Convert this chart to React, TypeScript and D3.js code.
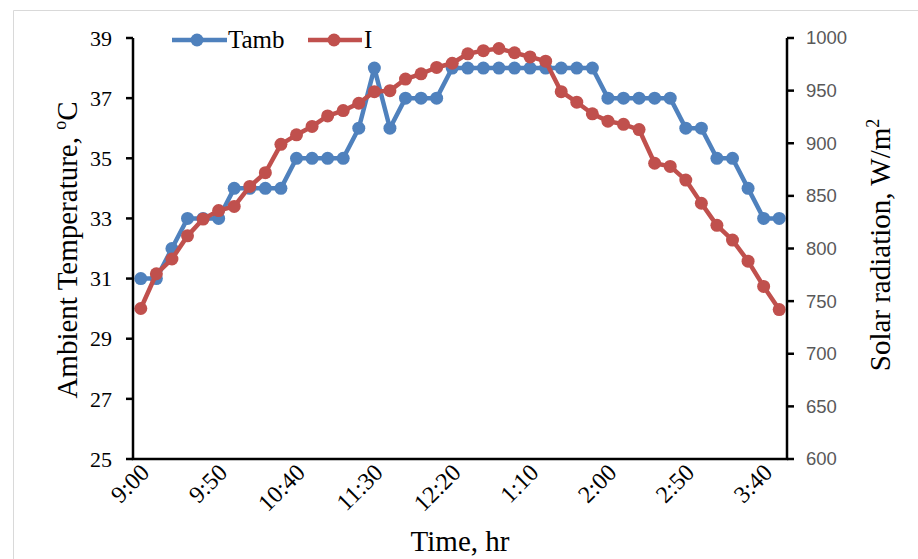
import React from "react";
import * as d3 from "d3";

const times = [
  "9:00", "9:10", "9:20", "9:30", "9:40", "9:50",
  "10:00", "10:10", "10:20", "10:30", "10:40", "10:50",
  "11:00", "11:10", "11:20", "11:30", "11:40", "11:50",
  "12:00", "12:10", "12:20", "12:30", "12:40", "12:50",
  "1:00", "1:10", "1:20", "1:30", "1:40", "1:50",
  "2:00", "2:10", "2:20", "2:30", "2:40", "2:50",
  "3:00", "3:10", "3:20", "3:30", "3:40", "3:50",
];
const tickLabels = ["9:00", "9:50", "10:40", "11:30", "12:20", "1:10", "2:00", "2:50", "3:40"];
const tamb = [
  31, 31, 32, 33, 33, 33, 34, 34, 34, 34, 35, 35, 35, 35, 36, 38, 36, 37, 37, 37,
  38, 38, 38, 38, 38, 38, 38, 38, 38, 38, 37, 37, 37, 37, 37, 36, 36, 35, 35, 34, 33, 33,
];
const radiation = [
  743, 776, 790, 812, 828, 836, 840, 859, 872, 899, 908, 916, 926, 931, 938, 949, 950, 961,
  966, 972, 976, 985, 988, 990, 986, 982, 978, 949, 939, 928, 921, 918, 913, 881, 878, 865,
  843, 822, 808, 788, 764, 742,
];
const leftTicks = [25, 27, 29, 31, 33, 35, 37, 39];
const rightTicks = [600, 650, 700, 750, 800, 850, 900, 950, 1000];

const BLUE = "#4F81BD";
const RED = "#C0504D";
const SERIF = "'Liberation Serif', 'Times New Roman', serif";
const SANS = "'Liberation Sans', Arial, sans-serif";

export default function App() {
  const W = 918, H = 559;
  const left = 133, right = 787, top = 38, bottom = 459;
  const x = d3.scaleBand<string>().domain(times).range([left, right]).paddingInner(0).paddingOuter(0);
  const cx = (t: string) => (x(t) as number) + x.bandwidth() / 2;
  const yL = d3.scaleLinear().domain([25, 39]).range([bottom, top]);
  const yR = d3.scaleLinear().domain([600, 1000]).range([bottom, top]);

  const lineL = d3.line<number>().x((_, i) => cx(times[i])).y((d) => yL(d));
  const lineR = d3.line<number>().x((_, i) => cx(times[i])).y((d) => yR(d));

  return (
    <div style={{ position: "absolute", left: 0, top: 0 }}>
      <svg width={W} height={H} style={{ display: "block", background: "#fff" }}>
        <line x1={13.5} y1={10.5} x2={W} y2={10.5} stroke="#d9d9d9" strokeWidth={1} />
        <line x1={13.5} y1={10.5} x2={13.5} y2={H} stroke="#d9d9d9" strokeWidth={1} />

        {/* series */}
        <path d={lineL(tamb) || ""} fill="none" stroke={BLUE} strokeWidth={4.5} strokeLinejoin="round" />
        {tamb.map((v, i) => (
          <circle key={"b" + i} cx={cx(times[i])} cy={yL(v)} r={6.5} fill={BLUE} />
        ))}
        <path d={lineR(radiation) || ""} fill="none" stroke={RED} strokeWidth={4.5} strokeLinejoin="round" />
        {radiation.map((v, i) => (
          <circle key={"r" + i} cx={cx(times[i])} cy={yR(v)} r={6.5} fill={RED} />
        ))}

        {/* axes */}
        <line x1={left} y1={top} x2={left} y2={bottom} stroke="#000" strokeWidth={2.5} />
        <line x1={right} y1={top} x2={right} y2={bottom} stroke="#000" strokeWidth={2.5} />
        <line x1={left - 1.25} y1={bottom} x2={right + 1.25} y2={bottom} stroke="#000" strokeWidth={2.5} />
        {leftTicks.map((t) => (
          <g key={"lt" + t}>
            <line x1={left - 7} x2={left} y1={yL(t)} y2={yL(t)} stroke="#000" strokeWidth={2.5} />
            <text x={left - 21} y={yL(t)} dy="0.35em" textAnchor="end" fontFamily={SERIF} fontSize={22} fill="#000">
              {t}
            </text>
          </g>
        ))}
        {rightTicks.map((t) => (
          <g key={"rt" + t}>
            <line x1={right} x2={right + 7} y1={yR(t)} y2={yR(t)} stroke="#000" strokeWidth={2.5} />
            <text x={right + 19} y={yR(t)} dy="0.35em" textAnchor="start" fontFamily={SANS} fontSize={18.5} fill="#595959">
              {t}
            </text>
          </g>
        ))}
        {tickLabels.map((t) => (
          <text
            key={"xt" + t}
            transform={`translate(${cx(t) + 10},${474}) rotate(-45)`}
            textAnchor="end"
            fontFamily={SERIF}
            fontSize={24}
            fill="#000"
          >
            {t}
          </text>
        ))}

        {/* titles */}
        <text x={460} y={551} textAnchor="middle" fontFamily={SERIF} fontSize={29} fill="#000">
          Time, hr
        </text>
        <text transform="translate(77,250) rotate(-90)" textAnchor="middle" fontFamily={SERIF} fontSize={29} fill="#000">
          Ambient Temperature, <tspan fontSize={18} dy={-11}>o</tspan>
          <tspan dy={11}>C</tspan>
        </text>
        <text transform="translate(890,245) rotate(-90)" textAnchor="middle" fontFamily={SERIF} fontSize={29} fill="#000">
          Solar radiation, W/m<tspan fontSize={18} dy={-11}>2</tspan>
        </text>

        {/* legend */}
        <line x1={172} x2={227} y1={40} y2={40} stroke={BLUE} strokeWidth={4.5} />
        <circle cx={197} cy={40} r={6.5} fill={BLUE} />
        <text x={228} y={48} fontFamily={SERIF} fontSize={25} fill="#000">Tamb</text>
        <line x1={308} x2={362} y1={40} y2={40} stroke={RED} strokeWidth={4.5} />
        <circle cx={334} cy={40} r={6.5} fill={RED} />
        <text x={364} y={48} fontFamily={SERIF} fontSize={25} fill="#000">I</text>
      </svg>
    </div>
  );
}
